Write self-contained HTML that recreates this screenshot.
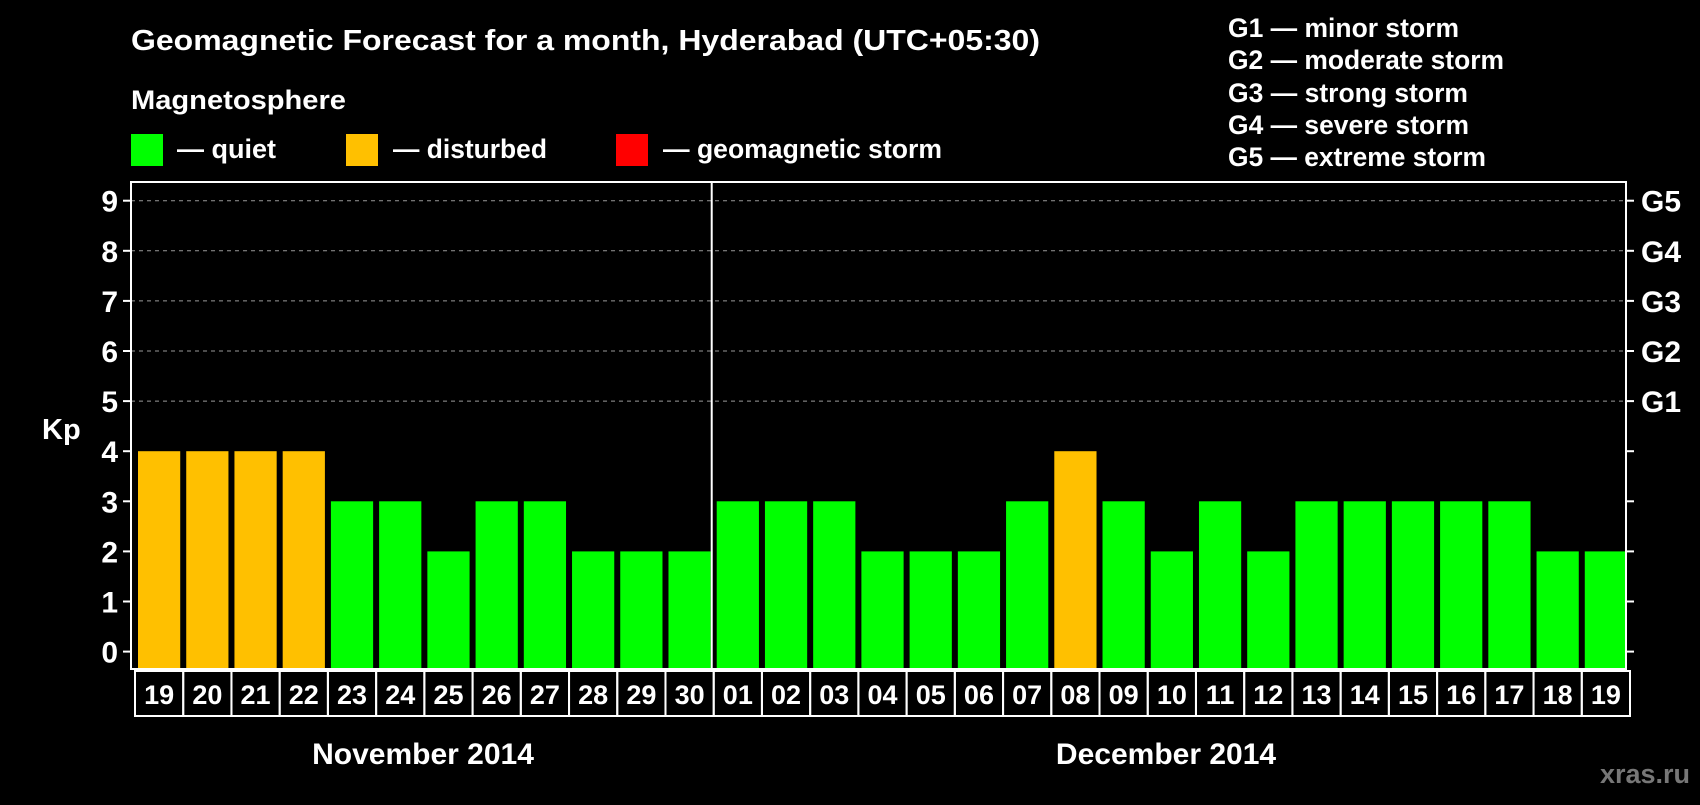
<!DOCTYPE html>
<html><head><meta charset="utf-8"><style>
body{margin:0;background:#000;width:1700px;height:800px;overflow:hidden;font-family:"Liberation Sans",Arial,sans-serif;}
svg text{font-family:"Liberation Sans",Arial,sans-serif;font-weight:bold;fill:#fff;}
</style></head><body>
<svg id="c" width="1700" height="800" xmlns="http://www.w3.org/2000/svg">
<text x="131" y="50" font-size="29" textLength="909" lengthAdjust="spacingAndGlyphs">Geomagnetic Forecast for a month, Hyderabad (UTC+05:30)</text>
<text x="131" y="109" font-size="27" textLength="215" lengthAdjust="spacingAndGlyphs">Magnetosphere</text>
<g><rect x="131" y="134" width="32" height="32" fill="#00ff00"/><text x="177" y="158" font-size="27" textLength="99" lengthAdjust="spacingAndGlyphs">— quiet</text></g>
<g><rect x="346" y="134" width="32" height="32" fill="#ffc000"/><text x="393" y="158" font-size="27" textLength="154" lengthAdjust="spacingAndGlyphs">— disturbed</text></g>
<g><rect x="616" y="134" width="32" height="32" fill="#ff0000"/><text x="663" y="158" font-size="27" textLength="279" lengthAdjust="spacingAndGlyphs">— geomagnetic storm</text></g>
<g font-size="27">
<text x="1228" y="37" textLength="231" lengthAdjust="spacingAndGlyphs">G1 — minor storm</text>
<text x="1228" y="69" textLength="276" lengthAdjust="spacingAndGlyphs">G2 — moderate storm</text>
<text x="1228" y="102" textLength="240" lengthAdjust="spacingAndGlyphs">G3 — strong storm</text>
<text x="1228" y="134" textLength="241" lengthAdjust="spacingAndGlyphs">G4 — severe storm</text>
<text x="1228" y="166" textLength="258" lengthAdjust="spacingAndGlyphs">G5 — extreme storm</text>
</g>
<text x="42" y="439" font-size="29">Kp</text>
<g id="grid"></g><g id="bars"></g><g id="axes"></g>
<text x="423" y="764" font-size="30" text-anchor="middle">November 2014</text>
<text x="1166" y="764" font-size="30" text-anchor="middle">December 2014</text>
<text x="1690" y="783" font-size="27" text-anchor="end" style="fill:#777">xras.ru</text>
</svg>
<script>
const days=["19","20","21","22","23","24","25","26","27","28","29","30","01","02","03","04","05","06","07","08","09","10","11","12","13","14","15","16","17","18","19"];
const kp=[4,4,4,4,3,3,2,3,3,2,2,2,3,3,3,2,2,2,3,4,3,2,3,2,3,3,3,3,3,2,2];
const yTicks=[0,1,2,3,4,5,6,7,8,9];
const gLabels=["G1","G2","G3","G4","G5"];
const gValues=[5,6,7,8,9];
const L=131,R=1626,T=182,B=669,Y0=651.6,UNIT=50.1;
const pitch=(R-L)/days.length;
const y=v=>Y0-v*UNIT;
const x=i=>L+i*pitch;
const ns="http://www.w3.org/2000/svg";
function mk(tag,attrs,parent){const e=document.createElementNS(ns,tag);for(const k in attrs)e.setAttribute(k,attrs[k]);parent.appendChild(e);return e;}
const grid=document.getElementById('grid'),bars=document.getElementById('bars'),axes=document.getElementById('axes');
gValues.forEach(v=>{const l=mk('line',{x1:L,x2:R,y1:y(v),y2:y(v),stroke:'#999','stroke-dasharray':'4,4','stroke-width':1},grid);

});
kp.forEach((v,i)=>{const c=v>=5?'#ff0000':(v>=4?'#ffc000':'#00ff00');
const r=mk('rect',{x:x(i)+7,y:y(v),width:pitch-6,height:B-y(v),fill:c},bars);

});
mk('rect',{x:L,y:T,width:R-L,height:B-T,fill:'none',stroke:'#fff','stroke-width':2},axes);
const sep=mk('line',{x1:x(12)+2,x2:x(12)+2,y1:T,y2:B,stroke:'#fff','stroke-width':2},axes);


yTicks.forEach(v=>{mk('line',{x1:L-8,x2:L,y1:y(v),y2:y(v),stroke:'#fff','stroke-width':2},axes);
mk('line',{x1:R,x2:R+8,y1:y(v),y2:y(v),stroke:'#fff','stroke-width':2},axes);
const t=mk('text',{x:L-13,y:y(v)+11,'font-size':30,'text-anchor':'end'},axes);t.textContent=v;

});
gLabels.forEach((g,i)=>{const t=mk('text',{x:R+15,y:y(gValues[i])+11,'font-size':30},axes);t.textContent=g;

});
days.forEach((d,i)=>{const cell=mk('rect',{x:x(i)+4,y:671,width:pitch,height:45,fill:'none',stroke:'#fff','stroke-width':2},axes);


const t=mk('text',{x:x(i)+4+pitch/2,y:704,'font-size':27,'text-anchor':'middle'},axes);t.textContent=d;

});
</script>
</body></html>
